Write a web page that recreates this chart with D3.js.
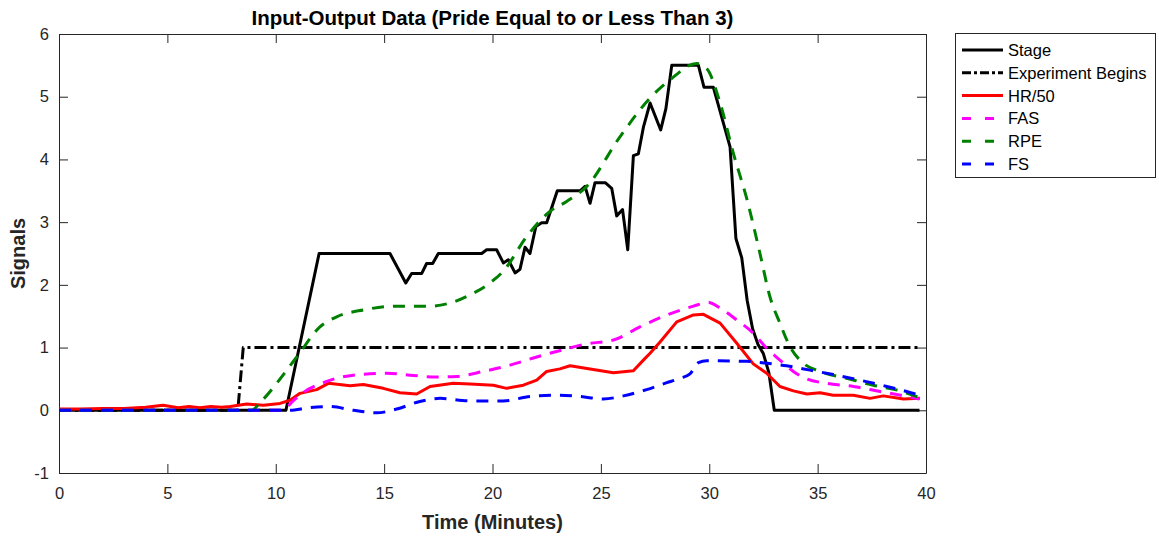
<!DOCTYPE html>
<html>
<head>
<meta charset="utf-8">
<script src="https://cdn.jsdelivr.net/npm/d3@7"></script>
<style>
  body { margin: 0; background: #fff; }
  svg { font-family: "Liberation Sans", Arial, Helvetica, sans-serif; }
</style>
</head>
<body>
<div id="chart"></div>
<script>
/* chart data */
var stageT = [0, 10.47, 12.0, 15.27, 16.0, 16.27, 16.73, 16.96, 17.24, 17.5, 19.5, 19.73, 20.19, 20.5, 20.73, 21.04, 21.27, 21.5, 21.73, 22.0, 22.27, 22.5, 22.99, 24.04, 24.27, 24.5, 24.73, 25.2, 25.5, 25.73, 26.0, 26.24, 26.5, 26.73, 26.96, 27.27, 27.76, 28.0, 28.27, 29.5, 29.76, 30.19, 30.96, 31.23, 31.5, 31.75, 32.0, 32.25, 32.5, 32.75, 33.0, 39.7];
var stageV = [0, 0, 2.5, 2.5, 2.03, 2.18, 2.18, 2.34, 2.34, 2.5, 2.5, 2.56, 2.56, 2.35, 2.4, 2.19, 2.25, 2.6, 2.5, 2.93, 2.99, 2.99, 3.5, 3.5, 3.57, 3.3, 3.63, 3.63, 3.54, 3.1, 3.2, 2.56, 4.06, 4.09, 4.51, 4.9, 4.47, 4.81, 5.5, 5.5, 5.15, 5.15, 4.2, 2.74, 2.43, 1.75, 1.3, 1.05, 0.9, 0.6, 0, 0];

var expT = [0, 8.25, 8.5, 39.7];
var expV = [0, 0, 1, 1];

var hrT = [0, 1, 2, 3, 4, 4.8, 5.5, 6, 6.5, 7, 7.5, 7.9, 8.66, 9.43, 10.2, 10.66, 11.12, 11.89, 12.43, 13.43, 14.04, 14.96, 15.73, 16.5, 17.12, 18.19, 18.96, 20.04, 20.65, 21.42, 22.04, 22.5, 23.11, 23.58, 24.5, 25.58, 26.5, 26.96, 27.27, 27.73, 28.5, 29.27, 29.73, 30.5, 31.27, 32.03, 32.65, 33.26, 33.88, 34.5, 35.11, 35.72, 36.65, 37.42, 38.03, 38.96, 39.72];
var hrV = [0.02, 0.02, 0.03, 0.03, 0.05, 0.08, 0.04, 0.06, 0.04, 0.06, 0.05, 0.06, 0.1, 0.08, 0.11, 0.16, 0.27, 0.33, 0.43, 0.39, 0.41, 0.35, 0.28, 0.26, 0.38, 0.43, 0.42, 0.40, 0.35, 0.40, 0.48, 0.62, 0.66, 0.71, 0.66, 0.6, 0.63, 0.8, 0.91, 1.09, 1.41, 1.52, 1.53, 1.39, 1.07, 0.74, 0.59, 0.38, 0.31, 0.26, 0.28, 0.24, 0.24, 0.19, 0.23, 0.18, 0.19];

var fasT = [0, 10.3, 10.8, 11.1, 12.35, 13.58, 15.12, 16.19, 17.43, 18.35, 19.58, 20.81, 22.04, 23.2, 24.35, 25.58, 26.8, 28.04, 29.27, 29.96, 30.5, 31.27, 32.03, 32.65, 33.26, 33.88, 34.5, 35.42, 36.65, 37.88, 39.11, 39.7];
var fasV = [0, 0, 0.15, 0.24, 0.46, 0.56, 0.59, 0.56, 0.53, 0.54, 0.62, 0.72, 0.85, 0.96, 1.06, 1.12, 1.33, 1.52, 1.66, 1.72, 1.63, 1.44, 1.23, 0.99, 0.8, 0.62, 0.5, 0.43, 0.38, 0.30, 0.22, 0.18];

var rpeT = [0, 8.9, 9.27, 10.97, 12.04, 12.81, 14.04, 15.58, 17.12, 18.04, 18.96, 19.88, 20.5, 21.6, 22.65, 23.42, 24.35, 25.88, 27.27, 28.19, 29.42, 29.88, 30.5, 31.11, 31.75, 32.34, 32.8, 33.26, 33.73, 34.34, 35.1, 36.34, 37.57, 38.8, 39.7];
var rpeV = [0, 0, 0.12, 0.85, 1.33, 1.49, 1.6, 1.66, 1.66, 1.71, 1.84, 2.03, 2.22, 2.78, 3.17, 3.33, 3.57, 4.36, 4.98, 5.27, 5.53, 5.45, 4.9, 4.1, 3.35, 2.5, 1.81, 1.39, 1.01, 0.75, 0.62, 0.51, 0.40, 0.31, 0.2];

var fsT = [0, 10.66, 11.5, 12.5, 13.58, 14.66, 15.58, 16.65, 17.58, 18.96, 20.5, 21.73, 22.96, 24.04, 25.11, 26.04, 27.11, 28.04, 28.65, 29.11, 29.5, 29.88, 31.73, 32.65, 33.57, 34.65, 35.72, 36.96, 38.19, 39.11, 39.7];
var fsV = [0, 0, 0.04, 0.06, 0.0, -0.04, 0.02, 0.14, 0.19, 0.15, 0.15, 0.22, 0.24, 0.22, 0.18, 0.23, 0.33, 0.44, 0.51, 0.58, 0.76, 0.79, 0.78, 0.75, 0.71, 0.64, 0.57, 0.48, 0.38, 0.30, 0.24];

var xTicks = [0, 5, 10, 15, 20, 25, 30, 35, 40];
var yTicks = [-1, 0, 1, 2, 3, 4, 5, 6];

var seriesNames = ["Stage", "Experiment Begins", "HR/50", "FAS", "RPE", "FS"];

// series styles
var styles = [
  { color: "#000000", dash: null, curve: d3.curveLinear },
  { color: "#000000", dash: "12,4,3,4", curve: d3.curveLinear },
  { color: "#ff0000", dash: null, curve: d3.curveLinear },
  { color: "#ff00ff", dash: "12,9", curve: d3.curveMonotoneX },
  { color: "#008000", dash: "12,9", curve: d3.curveMonotoneX },
  { color: "#0000ff", dash: "12,9", curve: d3.curveMonotoneX }
];

function zipSeries(ts, vs) {
  return ts.map(function(t, i) { return { t: t, v: vs[i] }; });
}
var allSeries = [
  zipSeries(stageT, stageV),
  zipSeries(expT, expV),
  zipSeries(hrT, hrV),
  zipSeries(fasT, fasV),
  zipSeries(rpeT, rpeV),
  zipSeries(fsT, fsV)
];

var width = 1159, height = 539;
var plotLeft = 59, plotRight = 926, plotTop = 34, plotBottom = 473;

var svg = d3.select("#chart").append("svg")
  .attr("width", width)
  .attr("height", height);

svg.append("rect").attr("width", width).attr("height", height).attr("fill", "#fff");

var x = d3.scaleLinear().domain([0, 40]).range([plotLeft, plotRight]);
var y = d3.scaleLinear().domain([-1, 6]).range([plotBottom, plotTop]);

var axisColor = "#262626";

// clip
svg.append("clipPath").attr("id", "plotclip")
  .append("rect")
  .attr("x", plotLeft).attr("y", plotTop)
  .attr("width", plotRight - plotLeft).attr("height", plotBottom - plotTop);

// axes, MATLAB style ticks pointing inwards
var xAxisB = svg.append("g")
  .attr("transform", "translate(0," + plotBottom + ")")
  .call(d3.axisBottom(x).tickValues(xTicks).tickSizeInner(-9).tickSizeOuter(0).tickPadding(14));
var xAxisT = svg.append("g")
  .attr("transform", "translate(0," + plotTop + ")")
  .call(d3.axisTop(x).tickValues(xTicks).tickSizeInner(-9).tickSizeOuter(0).tickFormat(""));
var yAxisL = svg.append("g")
  .attr("transform", "translate(" + plotLeft + ",0)")
  .call(d3.axisLeft(y).tickValues(yTicks)
    .tickFormat(function(d) { return String(d); })   // plain hyphen for -1
    .tickSizeInner(-9).tickSizeOuter(0).tickPadding(10));
var yAxisR = svg.append("g")
  .attr("transform", "translate(" + plotRight + ",0)")
  .call(d3.axisRight(y).tickValues(yTicks).tickSizeInner(-9).tickSizeOuter(0).tickFormat(""));

[xAxisB, xAxisT, yAxisL, yAxisR].forEach(function(g) {
  g.selectAll("path").attr("stroke", axisColor).attr("stroke-width", 1);
  g.selectAll("line").attr("stroke", axisColor).attr("stroke-width", 1);
  g.selectAll("text").attr("fill", axisColor).style("font-size", "16.5px");
});

// lines
var plot = svg.append("g").attr("clip-path", "url(#plotclip)");
allSeries.forEach(function(s, i) {
  var line = d3.line()
    .x(function(d) { return x(d.t); })
    .y(function(d) { return y(d.v); })
    .curve(styles[i].curve);
  plot.append("path")
    .datum(s)
    .attr("d", line)
    .attr("fill", "none")
    .attr("stroke", styles[i].color)
    .attr("stroke-width", 3)
    .attr("stroke-linejoin", "round")
    .attr("stroke-dasharray", styles[i].dash);
});

// title and axis labels
svg.append("text")
  .attr("x", (plotLeft + plotRight) / 2)
  .attr("y", 25)
  .attr("text-anchor", "middle")
  .attr("font-weight", "bold")
  .attr("font-size", "20.5px")
  .attr("fill", "#000")
  .text("Input-Output Data (Pride Equal to or Less Than 3)");

svg.append("text")
  .attr("x", (plotLeft + plotRight) / 2)
  .attr("y", 529)
  .attr("text-anchor", "middle")
  .attr("font-weight", "bold")
  .attr("font-size", "20px")
  .attr("fill", "#262626")
  .text("Time (Minutes)");

svg.append("text")
  .attr("transform", "translate(25," + ((plotTop + plotBottom) / 2) + ") rotate(-90)")
  .attr("text-anchor", "middle")
  .attr("font-weight", "bold")
  .attr("font-size", "20px")
  .attr("fill", "#262626")
  .text("Signals");

// legend
var legend = svg.append("g");
legend.append("rect")
  .attr("x", 955.5).attr("y", 33.5)
  .attr("width", 200).attr("height", 144)
  .attr("fill", "#fff")
  .attr("stroke", axisColor)
  .attr("stroke-width", 1);

var legendDash = [null, "9,3,3,3", null, "9,14", "9,14", "9,14"];
seriesNames.forEach(function(name, i) {
  var ly = 50 + i * 22.8;
  legend.append("line")
    .attr("x1", 962).attr("x2", 1003)
    .attr("y1", ly).attr("y2", ly)
    .attr("stroke", styles[i].color)
    .attr("stroke-width", 3)
    .attr("stroke-dasharray", legendDash[i]);
  legend.append("text")
    .attr("x", 1008)
    .attr("y", ly + 6)
    .attr("font-size", "16.5px")
    .attr("fill", "#000")
    .text(name);
});
</script>
</body>
</html>
